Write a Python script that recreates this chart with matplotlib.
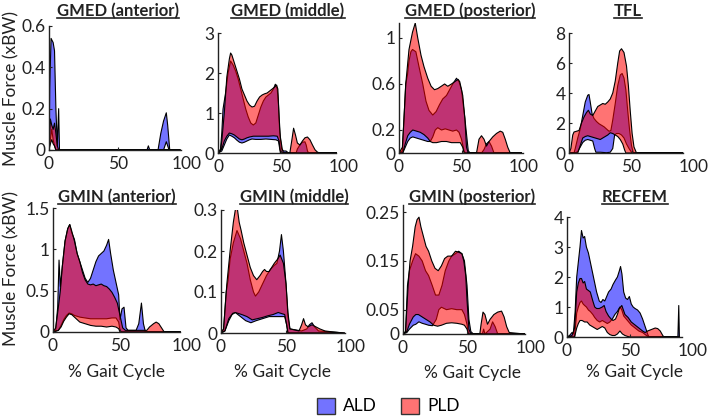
import matplotlib
matplotlib.use("Agg")
import matplotlib.pyplot as plt
from matplotlib.patches import Patch
from matplotlib.lines import Line2D

plt.rcParams['font.family'] = ['Lato', 'DejaVu Sans']

W, H = 711, 418

# ---------------- data (x = % gait cycle, y = muscle force xBW) ----------------
GMED_ANT_ALD_HI = [(0,0),(0.5,0.3),(1.5,0.54),(3,0.52),(4,0.48),(5,0.2),(6,0.02),(7,0.2),(7.6,0),(71,0),(72,0.02),(73,0),(79,0),(81,0.08),(83,0.14),(85,0.18),(86,0.12),(87.5,0),(95,0)]
GMED_ANT_ALD_LO = [(0,0),(1,0.05),(2,0.1),(3,0.05),(4,0.02),(5,0),(83,0),(85,0.04),(86,0.02),(87,0),(95,0)]
GMED_ANT_PLD_HI = [(0,0),(0.5,0.08),(1,0.15),(2,0.12),(3,0.1),(4,0.13),(5,0.08),(6,0.02),(7,0),(95,0)]
GMED_ANT_PLD_LO = [(0,0),(1,0.03),(2,0.05),(3,0.03),(4,0.02),(5,0),(95,0)]

GMED_MID_ALD_HI = [(0,0),(2,0.1),(3,0.5),(4,1.1),(5,1.3),(6,1.5),(8,2.0),(10,2.3),(12,2.2),(14,2.05),(16,1.85),(18,1.6),(20,1.35),(22,1.1),(24,0.9),(26,0.75),(28,0.7),(30,0.75),(32,0.95),(34,1.15),(36,1.3),(38,1.4),(40,1.45),(42,1.5),(44,1.6),(45.5,1.72),(47,1.6),(48,1.2),(49,0.5),(50.5,0.1),(52,0.05),(54,0.05),(56,0),(62,0),(63,0.1),(65,0.2),(67,0.27),(69,0.28),(70,0.2),(71,0.05),(72,0),(94,0)]
GMED_MID_ALD_LO = [(0,0),(3,0.05),(5,0.2),(7,0.35),(9,0.45),(11,0.42),(13,0.38),(15,0.32),(17,0.27),(19,0.25),(21,0.27),(23,0.3),(25,0.33),(27,0.35),(30,0.34),(34,0.34),(38,0.35),(42,0.34),(46,0.33),(48,0.3),(49,0.1),(50,0),(94,0)]
GMED_MID_PLD_HI = [(0,0),(2,0.05),(3,0.3),(5,1.0),(7,1.9),(9,2.35),(10,2.5),(11,2.45),(13,2.25),(15,2.05),(17,1.85),(19,1.6),(21,1.45),(23,1.3),(25,1.2),(27,1.15),(29,1.17),(31,1.3),(33,1.4),(35,1.45),(37,1.48),(39,1.5),(41,1.55),(43,1.6),(45,1.65),(46.5,1.7),(47.5,1.6),(48.5,0.9),(49.5,0.4),(51,0.1),(52,0),(57,0),(58.5,0.3),(60,0.62),(61.5,0.45),(63,0.25),(65,0.2),(67,0.3),(69,0.38),(71,0.4),(73,0.33),(75,0.2),(77,0.08),(79,0.02),(81,0),(94,0)]
GMED_MID_PLD_LO = [(0,0),(3,0.1),(5,0.3),(7,0.42),(9,0.5),(11,0.48),(13,0.45),(15,0.4),(17,0.35),(19,0.33),(21,0.35),(23,0.38),(25,0.4),(28,0.42),(32,0.42),(36,0.42),(40,0.42),(44,0.43),(47,0.42),(48.5,0.3),(49.5,0),(94,0)]

GMED_POS_ALD_HI = [(0,0),(2.7,0.02),(4,0.3),(5.4,0.6),(6.8,0.68),(8,0.8),(9.5,0.88),(10.8,0.9),(13.5,0.88),(16,0.75),(19,0.6),(21.6,0.45),(24,0.37),(27,0.33),(29.7,0.36),(32.4,0.42),(35,0.47),(38,0.5),(40.5,0.55),(43,0.6),(46,0.65),(48,0.62),(50,0.55),(52.7,0.3),(55.4,0.02),(56.8,0),(66,0),(68,0.03),(70,0.08),(72,0.1),(74,0.06),(76,0),(98,0)]
GMED_POS_ALD_LO = [(0,0),(3,0),(5,0.05),(7,0.1),(9,0.13),(11,0.14),(14,0.13),(17,0.12),(20,0.11),(23,0.1),(25,0.1),(27,0.14),(29,0.2),(31,0.22),(34,0.2),(37,0.21),(40,0.2),(43,0.19),(46,0.2),(48,0.18),(50,0.12),(52,0.02),(53,0),(98,0)]
GMED_POS_PLD_HI = [(0,0),(2.7,0.05),(4,0.3),(5.4,0.6),(8,0.9),(10.8,1.05),(13,1.13),(15,1.0),(17.6,0.85),(20,0.75),(23,0.65),(25.7,0.58),(28.4,0.55),(31,0.56),(33.8,0.58),(36.5,0.6),(39,0.58),(42,0.6),(44.6,0.62),(47.3,0.64),(48.6,0.62),(51,0.5),(52.7,0.3),(54,0.05),(55.4,0),(62,0),(64,0.12),(66,0.15),(68,0.12),(70,0.06),(72,0.1),(75,0.14),(78,0.17),(81,0.19),(83,0.18),(85,0.12),(87,0.05),(89,0),(98,0)]
GMED_POS_PLD_LO = [(0,0),(3,0),(5,0.08),(7,0.15),(9,0.18),(11,0.2),(14,0.19),(17,0.18),(20,0.16),(23,0.13),(25,0.1),(27,0.09),(30,0.09),(34,0.1),(38,0.1),(42,0.09),(46,0.09),(49,0.09),(51,0.05),(52,0),(98,0)]

TFL_ALD_HI = [(0,0),(4,0),(5,0.3),(7,1.0),(9,1.6),(11,2.5),(13,3.4),(15,3.85),(16,3.9),(17,3.4),(18.5,2.6),(20,2.3),(22,2.1),(24,1.95),(26,1.85),(28,1.75),(30,1.6),(32,1.45),(33.5,1.5),(35,2.2),(37,3.3),(39,4.5),(41,5.2),(42.5,5.3),(44,5.0),(45.5,4.2),(47,2.8),(48.5,1.5),(50,0.5),(51.5,0),(91,0)]
TFL_ALD_LO = [(0,0),(5,0),(7,0.1),(9,0.4),(11,0.7),(13,0.85),(15,0.9),(17,0.85),(19,0.8),(20.5,0.3),(21.5,0.05),(25,0.05),(30,0.02),(33,0.05),(35,0.3),(36.5,1.2),(38,1.3),(40,1.3),(42,1.2),(44,1.0),(46,0.6),(48,0.3),(50,0.05),(51.5,0),(91,0)]
TFL_PLD_HI = [(0,0),(1.5,0.3),(3,1.2),(4,1.4),(6,1.45),(8,1.5),(10,2.0),(12,2.4),(14,2.7),(15.5,2.85),(17,2.6),(19,2.5),(21,2.8),(23,3.1),(25,3.2),(27,3.3),(29,3.25),(31,3.4),(33,3.6),(35,4.0),(37,4.8),(39,6.0),(40.5,6.8),(42,6.95),(44,6.7),(46,5.8),(47.5,4.5),(49,2.8),(50.5,1.3),(52,0.4),(54,0),(91,0)]
TFL_PLD_LO = [(0,0),(7,0),(9,0.5),(11,1.0),(13,1.1),(15,1.15),(17,1.1),(19,1.05),(21,1.0),(23,0.95),(25,0.9),(27,1.0),(29,1.1),(31,1.2),(33,1.35),(35,1.3),(37,1.2),(39,1.1),(41,0.9),(43,0.6),(44.5,0.2),(45.5,0),(91,0)]

GMIN_ANT_ALD_HI = [(0,0),(2,0.02),(3.5,0.3),(4.5,0.87),(5.5,0.55),(7,0.8),(9,1.1),(11,1.25),(12.5,1.3),(14,1.2),(16,1.12),(18,0.95),(20,0.85),(22,0.75),(24,0.65),(26,0.6),(28,0.65),(30,0.75),(32,0.85),(34,0.92),(36,0.95),(38,0.98),(40,1.05),(41.5,1.12),(43,0.95),(45,0.75),(47,0.6),(49,0.45),(50,0.15),(51.5,0.28),(53,0.3),(54.5,0.05),(56,0.02),(62,0.02),(64,0.1),(66,0.35),(67.5,0.1),(69,0),(95,0)]
GMIN_ANT_ALD_LO = [(0,0),(4,0.02),(6,0.08),(8,0.15),(10,0.2),(12,0.23),(14,0.22),(16,0.2),(18,0.19),(20,0.18),(24,0.17),(28,0.16),(32,0.16),(36,0.16),(40,0.16),(44,0.17),(47,0.17),(49,0.12),(50,0.02),(51,0),(95,0)]
GMIN_ANT_PLD_HI = [(0,0),(2,0.05),(4,0.3),(5.5,0.5),(7,0.8),(9,1.1),(11,1.25),(12.5,1.3),(14,1.22),(16,1.1),(18,0.95),(20,0.85),(22,0.72),(24,0.63),(26,0.58),(28,0.57),(30,0.58),(32,0.56),(34,0.57),(36,0.58),(38,0.56),(40,0.55),(42,0.52),(44,0.48),(46,0.42),(48,0.35),(50,0.2),(52,0.05),(54,0.02),(70,0.02),(72,0.06),(75,0.1),(77,0.12),(79,0.1),(81,0.05),(83,0),(95,0)]
GMIN_ANT_PLD_LO = [(0,0),(4,0.02),(6,0.06),(8,0.13),(10,0.18),(12,0.22),(14,0.21),(16,0.18),(18,0.15),(20,0.12),(24,0.1),(28,0.08),(32,0.07),(36,0.07),(40,0.06),(44,0.07),(47,0.06),(49,0.04),(50,0),(95,0)]

GMIN_MID_ALD_HI = [(0,0),(2,0.01),(4,0.1),(5.5,0.13),(7,0.18),(9.5,0.22),(12.3,0.25),(15,0.23),(17.5,0.2),(20,0.17),(22.5,0.13),(25,0.1),(26.5,0.09),(29,0.1),(32,0.12),(35,0.14),(38,0.155),(41,0.165),(43,0.17),(45,0.2),(46.5,0.24),(48,0.2),(50,0.12),(51.5,0.04),(53,0.01),(62,0.005),(66,0.01),(68,0.02),(70,0.025),(72,0.015),(75,0.005),(95,0)]
GMIN_MID_ALD_LO = [(0,0),(3,0.005),(6,0.03),(8.5,0.045),(11,0.05),(13,0.045),(15,0.04),(19,0.03),(23,0.025),(27,0.03),(32,0.035),(37,0.04),(42,0.04),(46,0.04),(49,0.04),(50.5,0.02),(51.5,0),(95,0)]
GMIN_MID_PLD_HI = [(0,0),(2,0.01),(4.5,0.12),(7,0.2),(9.5,0.27),(11,0.3),(12.3,0.31),(14,0.27),(15.5,0.25),(17.5,0.22),(20,0.19),(22.5,0.16),(25,0.14),(27.5,0.13),(30,0.14),(32,0.15),(33.5,0.155),(35,0.15),(37,0.15),(39,0.16),(41,0.17),(43.5,0.18),(45.5,0.19),(48,0.17),(50,0.12),(51.5,0.05),(53,0.01),(60,0.005),(62,0.02),(63.5,0.035),(65,0.02),(67,0.015),(70,0.02),(73,0.015),(76,0.01),(80,0.005),(85,0.003),(95,0)]
GMIN_MID_PLD_LO = [(0,0),(3,0.005),(6,0.035),(9,0.048),(11,0.05),(13,0.048),(16,0.045),(20,0.04),(24,0.032),(28,0.035),(32,0.038),(36,0.042),(40,0.045),(44,0.05),(46,0.048),(49,0.045),(50.5,0.02),(51.5,0),(95,0)]

GMIN_POS_ALD_HI = [(0,0),(2,0.005),(3.5,0.1),(5,0.13),(7.5,0.15),(9.8,0.165),(12.4,0.16),(15,0.15),(17.6,0.13),(20,0.12),(22.8,0.1),(25.4,0.08),(28,0.08),(30.5,0.1),(33,0.13),(35.8,0.15),(38,0.16),(41,0.165),(43.5,0.17),(46,0.165),(48,0.15),(50,0.1),(51.5,0.03),(53,0.005),(55,0),(62,0),(63,0.01),(64,0),(68,0.01),(70,0.025),(72,0.015),(74,0),(95,0)]
GMIN_POS_ALD_LO = [(0,0),(3,0.003),(5,0.01),(8,0.018),(10,0.02),(12.4,0.025),(15,0.022),(17.6,0.02),(20,0.018),(23,0.017),(26,0.03),(28,0.05),(30,0.055),(34,0.05),(38,0.052),(42,0.05),(46,0.05),(48,0.04),(50,0.02),(51,0),(95,0)]
GMIN_POS_PLD_HI = [(0,0),(2,0.005),(4,0.1),(5.5,0.15),(7.5,0.18),(9.5,0.22),(11,0.235),(12.5,0.24),(14,0.22),(16,0.2),(18,0.18),(20,0.17),(22.5,0.15),(25,0.135),(27.5,0.13),(30,0.14),(32.5,0.155),(35,0.16),(38,0.16),(41,0.17),(43.5,0.168),(46,0.165),(47.5,0.15),(49,0.12),(50,0.07),(51.5,0.01),(53,0),(60,0),(61,0.02),(62.5,0.045),(64,0.04),(66,0.02),(68,0.03),(71,0.04),(74,0.045),(77,0.047),(79,0.035),(81,0.015),(83,0.003),(95,0)]
GMIN_POS_PLD_LO = [(0,0),(3,0.005),(5,0.02),(8,0.035),(10,0.04),(12,0.04),(15,0.035),(18,0.03),(21,0.025),(24,0.018),(27,0.016),(30,0.018),(34,0.022),(38,0.023),(42,0.022),(46,0.02),(48,0.018),(50,0.01),(51,0),(95,0)]

RECFEM_ALD_HI = [(0,0),(2,0.05),(4,0.15),(5,0.1),(6.4,0.8),(7.7,2.0),(9,2.5),(10.3,3.0),(11.5,3.55),(12.8,3.3),(14,3.35),(15.4,3.0),(17,2.8),(18.5,2.5),(20.5,2.1),(22,1.8),(23.5,1.5),(25.6,1.2),(27,1.15),(28.5,1.25),(30,1.2),(31.5,1.35),(33,1.5),(35,1.6),(36.5,1.75),(38.5,1.9),(40,2.0),(41.5,2.2),(42.5,2.35),(43.6,2.1),(45,1.5),(46.5,1.3),(48,1.25),(49.5,1.35),(51,1.1),(52.5,1.0),(54,0.95),(56,0.9),(58,0.8),(60,0.6),(62,0.35),(64,0.1),(65,0),(88,0),(88.7,1.05),(89.2,0)]
RECFEM_ALD_LO = [(0,0),(6,0),(7.7,0.8),(9,1.0),(10.3,1.15),(11.5,1.2),(12.8,1.1),(14,1.05),(15.4,1.0),(17,0.9),(18.5,0.85),(20.5,0.75),(22,0.65),(24,0.55),(26,0.5),(28,0.55),(30,0.5),(32,0.45),(34,0.5),(36,0.6),(38,0.75),(40,0.85),(42,1.0),(43.5,0.9),(45,0.7),(47,0.6),(49,0.5),(51,0.4),(54,0.3),(57,0.2),(60,0.15),(63,0.05),(65,0),(89.2,0)]
RECFEM_PLD_HI = [(0,0),(4,0.05),(6,0.3),(7.7,1.5),(9,1.8),(10.3,1.95),(11.5,1.95),(12.8,1.8),(14,1.85),(15.4,1.6),(17,1.55),(18.5,1.5),(20.5,1.2),(22,1.0),(23.5,0.95),(25.6,0.95),(28,1.0),(29.5,1.05),(31,0.85),(33,0.7),(35,0.6),(36.5,0.55),(38.5,0.6),(40,0.75),(41.5,0.95),(43.5,1.05),(46,0.75),(48.5,0.65),(51,0.5),(54,0.4),(57,0.3),(60,0.2),(62,0.15),(64,0.2),(67,0.25),(70,0.3),(72,0.28),(74,0.2),(76,0.05),(77,0),(89.2,0)]
RECFEM_PLD_LO = [(0,0),(6,0),(7.7,0.3),(9,0.45),(10.3,0.55),(12,0.55),(14,0.5),(16,0.5),(18,0.4),(20,0.35),(22,0.3),(24,0.25),(26,0.3),(28,0.35),(30,0.3),(32,0.15),(34,0.08),(36,0.05),(38,0.05),(40,0.1),(42,0.2),(44,0.1),(46,0.05),(48,0.02),(50,0),(89.2,0)]

TITLES = ["GMED (anterior)", "GMED (middle)", "GMED (posterior)", "TFL",
          "GMIN (anterior)", "GMIN (middle)", "GMIN (posterior)", "RECFEM"]
YTICKS = [[0, 0.2, 0.4, 0.6], [0, 1, 2, 3], [0, 0.2, 0.6, 1], [0, 2, 4, 6, 8],
          [0, 0.5, 1, 1.5], [0, 0.1, 0.2, 0.3], [0, 0.05, 0.15, 0.25], [0, 1, 2, 3, 4]]
YTICKLABELS = [["0", "0.2", "0.4", "0.6"], ["0", "1", "2", "3"], ["0", "0.2", "0.6", "1"],
               ["0", "2", "4", "6", "8"], ["0", "0.5", "1", "1.5"], ["0", "0.1", "0.2", "0.3"],
               ["0", "0.05", "0.15", "0.25"], ["0", "1", "2", "3", "4"]]
YMAX = [0.6, 3, 1.13, 8, 1.5, 0.3, 0.265, 4]
XTICKS = [0, 50, 100]
XTICKLABELS = ["0", "50", "100"]
SERIES = ["ALD", "PLD"]
CURVES = [
    (GMED_ANT_ALD_HI, GMED_ANT_ALD_LO, GMED_ANT_PLD_HI, GMED_ANT_PLD_LO),
    (GMED_MID_ALD_HI, GMED_MID_ALD_LO, GMED_MID_PLD_HI, GMED_MID_PLD_LO),
    (GMED_POS_ALD_HI, GMED_POS_ALD_LO, GMED_POS_PLD_HI, GMED_POS_PLD_LO),
    (TFL_ALD_HI, TFL_ALD_LO, TFL_PLD_HI, TFL_PLD_LO),
    (GMIN_ANT_ALD_HI, GMIN_ANT_ALD_LO, GMIN_ANT_PLD_HI, GMIN_ANT_PLD_LO),
    (GMIN_MID_ALD_HI, GMIN_MID_ALD_LO, GMIN_MID_PLD_HI, GMIN_MID_PLD_LO),
    (GMIN_POS_ALD_HI, GMIN_POS_ALD_LO, GMIN_POS_PLD_HI, GMIN_POS_PLD_LO),
    (RECFEM_ALD_HI, RECFEM_ALD_LO, RECFEM_PLD_HI, RECFEM_PLD_LO),
]

# ---------------- layout (pixels) ----------------
# left, top, width(=100 units), bottom, spine end (data units)
AX_PX = [(49, 26, 138, 150, 96), (218, 33, 126, 153, 94), (399, 23, 125, 153, 99), (569, 33, 125, 153, 91),
         (53, 208, 134, 332, 95), (221, 210, 130, 333, 95), (403, 205, 128, 334, 95), (567, 217, 126, 337, 91)]
TITLE_PX = [(118, 11), (288, 11), (470, 11), (628, 11), (117, 197), (294, 197), (472, 197), (635, 197)]
XLABEL_PX = [(117, 372), (283, 372), (472, 373), (634, 372)]

ALD_FC = (0.0, 0.0, 1.0, 0.55)
PLD_FC = (1.0, 0.0, 0.0, 0.55)
TICK_FS = 12.5
TITLE_FS = 12
LABEL_FS = 12.5
TXT = '#222222'

fig = plt.figure(figsize=(W / 100, H / 100), dpi=100)
fig.patch.set_facecolor('white')


def band(ax, hi, lo, fc):
    xs = [p[0] for p in hi] + [p[0] for p in lo[::-1]]
    ys = [p[1] for p in hi] + [p[1] for p in lo[::-1]]
    ax.fill(xs, ys, facecolor=fc, edgecolor='black', linewidth=0.8, joinstyle='round')


axes = []
for i, (l, t, w, b, xend) in enumerate(AX_PX):
    ax = fig.add_axes([l / W, 1 - b / H, w / W, (b - t) / H])
    a_hi, a_lo, p_hi, p_lo = CURVES[i]
    band(ax, a_hi, a_lo, ALD_FC)
    band(ax, p_hi, p_lo, PLD_FC)
    ax.set_xlim(0, 100)
    ax.set_ylim(0, YMAX[i])
    ax.set_xticks(XTICKS)
    ax.set_xticklabels(XTICKLABELS)
    ax.set_yticks(YTICKS[i])
    ax.set_yticklabels(YTICKLABELS[i])
    for s in ['top', 'right']:
        ax.spines[s].set_visible(False)
    ax.spines['bottom'].set_bounds(0, xend)
    for s in ['left', 'bottom']:
        ax.spines[s].set_linewidth(1.0)
        ax.spines[s].set_color(TXT)
    ax.tick_params(direction='in', length=2.5, width=0.8, labelsize=TICK_FS, colors=TXT)
    ax.tick_params(axis='x', pad=4.5)
    ax.tick_params(axis='y', pad=2.5)
    ax.xaxis.get_major_ticks()[-1].tick1line.set_visible(False)
    ax.patch.set_alpha(0)
    axes.append(ax)

title_texts = []
for s, (cx, cy) in zip(TITLES, TITLE_PX):
    t = fig.text(cx / W, 1 - cy / H, s, ha='center', va='center', fontsize=TITLE_FS, fontweight='bold', color=TXT)
    title_texts.append(t)

for s_x, s_y in XLABEL_PX:
    fig.text(s_x / W, 1 - s_y / H, "% Gait Cycle", ha='center', va='center', fontsize=LABEL_FS, color=TXT)

for cy in (88, 268):
    fig.text(11 / W, 1 - cy / H, "Muscle Force (xBW)", ha='center', va='center', rotation=90, fontsize=LABEL_FS, color=TXT)

handles = [Patch(facecolor=(0.45, 0.45, 1.0), edgecolor='#333333', linewidth=1.0),
           Patch(facecolor=(1.0, 0.45, 0.45), edgecolor='#333333', linewidth=1.0)]
fig.legend(handles, SERIES, loc='center', bbox_to_anchor=(388 / W, 1 - 406 / H), ncol=2, frameon=False,
           fontsize=LABEL_FS, handlelength=1.05, handleheight=1.05, handletextpad=0.45, columnspacing=1.4)

# underline titles
fig.canvas.draw()
r = fig.canvas.get_renderer()
for t in title_texts:
    bb = t.get_window_extent(renderer=r)
    y = (bb.y0 + 1) / H
    fig.add_artist(Line2D([bb.x0 / W, bb.x1 / W], [y, y], color=TXT, linewidth=1.2))

fig.savefig("out.png", dpi=100, facecolor='white')
